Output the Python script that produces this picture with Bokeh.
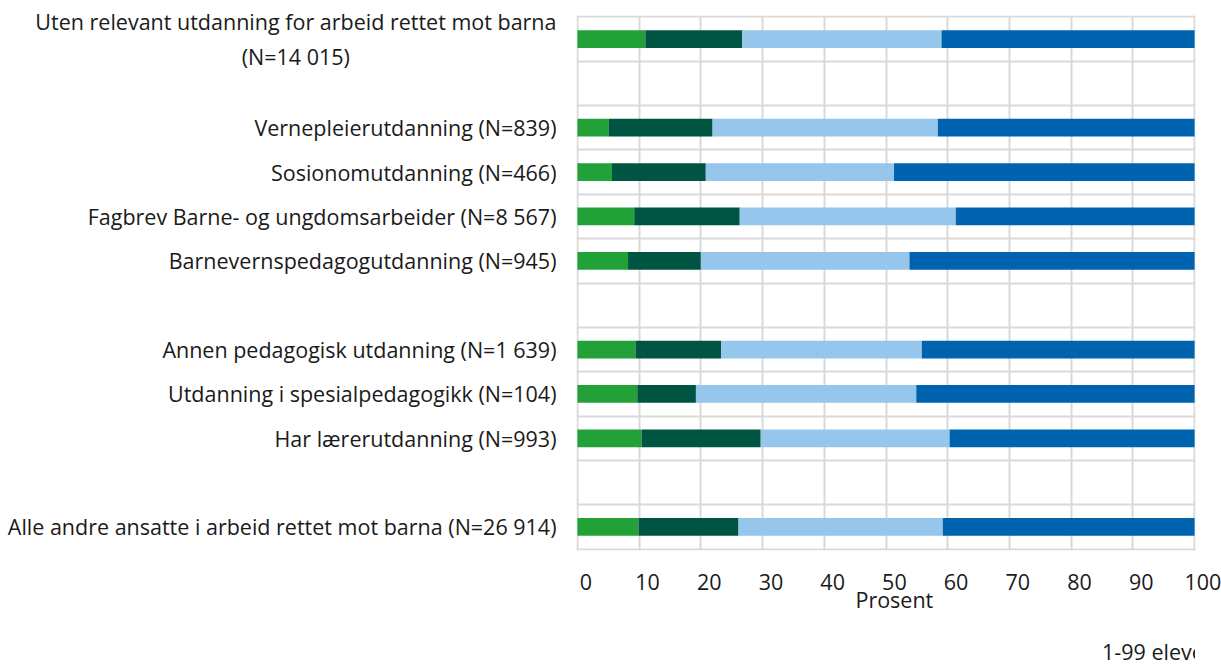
from bokeh.plotting import figure
from bokeh.layouts import column
from bokeh.models import (Range1d, FactorRange, Grid, FixedTicker,
                          Legend, LegendItem, ColumnDataSource)
from bokeh.embed import file_html
from bokeh.resources import INLINE

NB = "\u00a0"
categories = [
    "Uten relevant utdanning for arbeid rettet mot barna\n(N=14 015)" + NB * 37,
    " ",
    "Vernepleierutdanning (N=839)",
    "Sosionomutdanning (N=466)",
    "Fagbrev Barne- og ungdomsarbeider (N=8 567)",
    "Barnevernspedagogutdanning (N=945)",
    "  ",
    "Annen pedagogisk utdanning (N=1 639)",
    "Utdanning i spesialpedagogikk (N=104)",
    "Har lærerutdanning (N=993)",
    "   ",
    "Alle andre ansatte i arbeid rettet mot barna (N=26 914)",
]
series_names = ["1-99 elever", "100-199 elever", "200-349 elever", "350+ elever"]
v_1_99 = [11.0, 0, 5.1, 5.6, 9.2, 8.2, 0, 9.4, 9.7, 10.4, 0, 9.9]
v_100_199 = [15.7, 0, 16.8, 15.2, 17.1, 11.8, 0, 13.9, 9.5, 19.3, 0, 16.2]
v_200_349 = [32.3, 0, 36.5, 30.5, 35.0, 33.8, 0, 32.5, 35.7, 30.6, 0, 33.1]
v_350 = [41.0, 0, 41.6, 48.7, 38.7, 46.2, 0, 44.2, 45.1, 39.7, 0, 40.8]
colors = ["#22a139", "#005542", "#96c6eb", "#0063b0"]
x_ticks = [0, 10, 20, 30, 40, 50, 60, 70, 80, 90, 100]
x_title = "Prosent"

FONT = "Open Sans"
FS = "21.5px"
TXT = "#1a1a1a"
PAD = NB * 3  # the reference's tick labels sit a little right of their gridlines

keys = ["a", "b", "c", "d"]
src = ColumnDataSource(dict(cat=categories, a=v_1_99, b=v_100_199, c=v_200_349, d=v_350))

p = figure(width=1221, height=628, output_backend="svg", toolbar_location=None,
           x_range=Range1d(-0.15, 100.15),
           y_range=FactorRange(factors=list(reversed(categories)), range_padding=0.03,
                               range_padding_units="absolute"),
           x_axis_location="below", y_axis_location="left",
           min_border_left=576, min_border_right=26, min_border_top=15, min_border_bottom=78)
p.outline_line_color = None
p.background_fill_color = "white"

rs = p.hbar_stack(keys, y="cat", height=0.4, color=colors, line_color=None, source=src)

p.xgrid.visible = False
p.ygrid.visible = False
p.add_layout(Grid(dimension=0, ticker=FixedTicker(ticks=x_ticks),
                  grid_line_color="#d9d9d9", grid_line_width=2))
p.add_layout(Grid(dimension=1, ticker=FixedTicker(ticks=list(range(len(categories) + 1))),
                  grid_line_color="#d9d9d9", grid_line_width=2))

ya = p.yaxis[0]
ya.axis_line_color = None
ya.major_tick_line_color = None
ya.minor_tick_line_color = None
ya.major_label_standoff = 14
ya.major_label_text_font = FONT
ya.major_label_text_font_size = FS
ya.major_label_text_color = TXT

xa = p.xaxis[0]
xa.ticker = FixedTicker(ticks=x_ticks)
xa.major_label_overrides = {t: PAD + str(t) for t in x_ticks}
xa.axis_label = PAD + x_title
xa.axis_line_color = None
xa.major_tick_line_color = None
xa.minor_tick_line_color = None
xa.major_tick_out = 0
xa.major_label_standoff = 16
xa.major_label_text_font = FONT
xa.major_label_text_font_size = FS
xa.major_label_text_color = TXT
xa.axis_label_standoff = -14
xa.axis_label_text_font = FONT
xa.axis_label_text_font_size = FS
xa.axis_label_text_font_style = "normal"
xa.axis_label_text_color = TXT

# legend strip below the chart (its own small figure so it is not clipped)
lg = figure(width=1221, height=38, output_backend="svg", toolbar_location=None,
            x_range=Range1d(0, 1), y_range=Range1d(0, 1),
            x_axis_location=None, y_axis_location=None,
            min_border_left=0, min_border_right=0, min_border_top=0, min_border_bottom=0)
lg.outline_line_color = None
lg.xgrid.visible = False
lg.ygrid.visible = False
lrs = [lg.hbar(y=[], left=[], right=[], height=0.4, fill_color=c, line_color=None)
       for c in colors]
legend = Legend(items=[LegendItem(label=n, renderers=[r]) for n, r in zip(series_names, lrs)],
                orientation="horizontal", location=(506, 0),
                glyph_width=12, glyph_height=12, label_standoff=8, spacing=30,
                padding=0, margin=0, border_line_color=None, background_fill_alpha=0,
                label_text_font=FONT, label_text_font_size=FS, label_text_color=TXT)
lg.add_layout(legend)

layout = column(p, lg, spacing=0)
open("out.html", "w").write(file_html(layout, INLINE))
